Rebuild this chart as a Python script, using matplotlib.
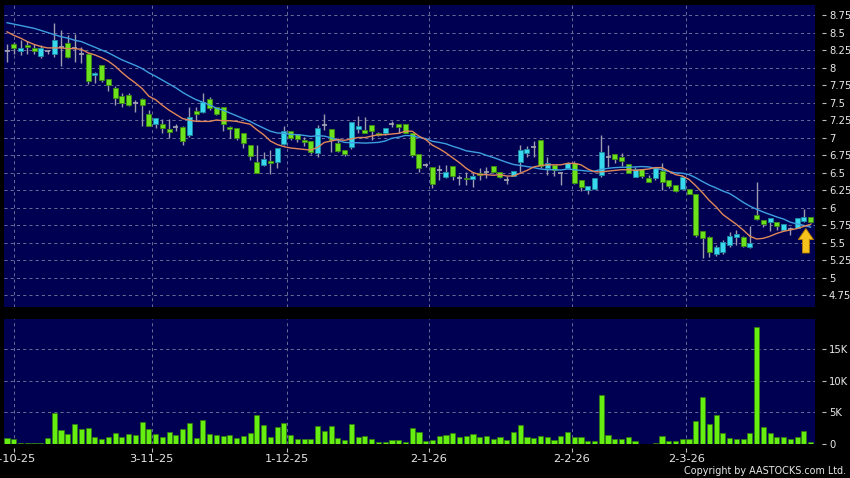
import matplotlib
matplotlib.use("Agg")
import matplotlib.pyplot as plt

# ---------------- data ----------------
opens = [8.24, 8.33, 8.23, 8.32, 8.28, 8.17, 8.23, 8.19, 8.29, 8.355,
         8.28, 8.19, 8.20, 7.90, 8.03, 7.83, 7.71, 7.60, 7.61, 7.50,
         7.555, 7.33, 7.20, 7.20, 7.115, 7.145, 7.155, 7.036, 7.38, 7.36,
         7.555, 7.43, 7.43, 7.155, 7.13, 7.06, 6.90, 6.655, 6.607, 6.67,
         6.655, 6.907, 7.097, 7.055, 6.96, 6.955, 6.783, 7.18, 7.117, 6.917,
         6.82, 6.869, 7.117, 7.107, 7.18, 7.06, 7.07, 7.193, 7.20, 7.19,
         7.06, 6.764, 6.607, 6.583, 6.536, 6.44, 6.593, 6.417, 6.426, 6.402,
         6.50, 6.512, 6.60, 6.512, 6.393, 6.455, 6.655, 6.783, 6.869, 6.96,
         6.569, 6.607, 6.488, 6.569, 6.63, 6.393, 6.25, 6.264, 6.464, 6.726,
         6.76, 6.726, 6.617, 6.44, 6.545, 6.417, 6.417, 6.526, 6.393, 6.32,
         6.264, 6.26, 6.20, 5.664, 5.583, 5.33, 5.369, 5.464, 5.574, 5.583,
         5.43, 5.893, 5.821, 5.798, 5.798, 5.679, 5.69, 5.702, 5.81, 5.86]
highs = [8.34, 8.37, 8.39, 8.38, 8.34, 8.32, 8.25, 8.63, 8.54, 8.46,
         8.48, 8.30, 8.21, 7.94, 8.03, 7.83, 7.73, 7.63, 7.63, 7.535,
         7.56, 7.39, 7.28, 7.26, 7.26, 7.19, 7.16, 7.43, 7.44, 7.63,
         7.58, 7.44, 7.44, 7.16, 7.13, 7.06, 6.90, 6.89, 6.80, 6.82,
         6.85, 7.164, 7.10, 7.055, 7.01, 6.955, 7.18, 7.336, 7.12, 6.99,
         6.82, 7.22, 7.307, 7.30, 7.18, 7.08, 7.13, 7.24, 7.20, 7.19,
         7.06, 6.764, 6.64, 6.583, 6.607, 6.607, 6.593, 6.464, 6.512, 6.488,
         6.56, 6.583, 6.60, 6.512, 6.45, 6.526, 6.893, 6.88, 6.955, 6.964,
         6.726, 6.607, 6.49, 6.645, 6.664, 6.393, 6.307, 6.417, 7.036, 6.90,
         6.76, 6.774, 6.617, 6.583, 6.545, 6.464, 6.583, 6.63, 6.393, 6.32,
         6.464, 6.26, 6.20, 5.664, 5.593, 5.464, 5.536, 5.655, 5.679, 5.60,
         5.736, 6.369, 5.821, 5.85, 5.798, 5.76, 5.726, 5.855, 5.974, 5.86]
lows = [8.08, 8.20, 8.18, 8.20, 8.20, 8.13, 8.20, 8.155, 8.02, 8.14,
        8.08, 8.06, 7.76, 7.78, 7.80, 7.66, 7.46, 7.44, 7.45, 7.37,
        7.16, 7.17, 7.13, 7.06, 7.00, 7.10, 6.89, 7.01, 7.23, 7.35,
        7.40, 7.32, 7.10, 7.00, 6.97, 6.85, 6.68, 6.49, 6.60, 6.48,
        6.57, 6.89, 6.97, 6.94, 6.88, 6.76, 6.717, 7.107, 6.80, 6.80,
        6.736, 6.83, 7.06, 7.06, 6.964, 7.02, 7.035, 7.145, 7.07, 7.06,
        6.726, 6.51, 6.574, 6.274, 6.393, 6.417, 6.393, 6.32, 6.32, 6.298,
        6.393, 6.417, 6.488, 6.417, 6.336, 6.455, 6.512, 6.726, 6.726, 6.56,
        6.464, 6.455, 6.32, 6.56, 6.33, 6.236, 6.20, 6.264, 6.44, 6.583,
        6.63, 6.60, 6.488, 6.44, 6.417, 6.36, 6.393, 6.25, 6.274, 6.226,
        6.264, 6.19, 5.574, 5.274, 5.298, 5.307, 5.336, 5.44, 5.464, 5.44,
        5.42, 5.82, 5.717, 5.67, 5.679, 5.679, 5.607, 5.702, 5.80, 5.783]
closes = [8.24, 8.28, 8.28, 8.29, 8.23, 8.28, 8.23, 8.39, 8.29, 8.15,
          8.28, 8.19, 7.81, 7.92, 7.82, 7.745, 7.56, 7.50, 7.46, 7.50,
          7.46, 7.17, 7.28, 7.13, 7.08, 7.145, 6.955, 7.30, 7.33, 7.507,
          7.417, 7.33, 7.19, 7.12, 7.00, 6.92, 6.735, 6.50, 6.70, 6.63,
          6.845, 7.097, 7.00, 6.974, 6.93, 6.79, 7.13, 7.18, 6.964, 6.81,
          6.764, 7.22, 7.17, 7.07, 7.097, 7.03, 7.13, 7.193, 7.145, 7.07,
          6.75, 6.56, 6.607, 6.336, 6.536, 6.507, 6.45, 6.417, 6.402, 6.45,
          6.464, 6.512, 6.507, 6.43, 6.393, 6.526, 6.82, 6.83, 6.869, 6.60,
          6.63, 6.536, 6.488, 6.63, 6.345, 6.30, 6.307, 6.417, 6.80, 6.726,
          6.70, 6.664, 6.488, 6.545, 6.455, 6.36, 6.56, 6.36, 6.31, 6.236,
          6.44, 6.20, 5.607, 5.56, 5.37, 5.44, 5.512, 5.593, 5.621, 5.45,
          5.488, 5.83, 5.764, 5.845, 5.736, 5.76, 5.69, 5.855, 5.869, 5.80]
ma10 = [8.51, 8.46, 8.42, 8.37, 8.33, 8.30, 8.28, 8.28, 8.28, 8.27,
        8.27, 8.26, 8.21, 8.18, 8.14, 8.09, 8.02, 7.93, 7.85, 7.78,
        7.70, 7.59, 7.54, 7.46, 7.39, 7.33, 7.27, 7.25, 7.23, 7.23,
        7.23, 7.25, 7.24, 7.24, 7.23, 7.21, 7.19, 7.11, 7.04, 6.95,
        6.90, 6.87, 6.85, 6.84, 6.83, 6.82, 6.86, 6.93, 6.95, 6.97,
        6.96, 6.98, 7.00, 7.00, 7.02, 7.04, 7.04, 7.05, 7.06, 7.09,
        7.09, 7.02, 6.97, 6.89, 6.84, 6.78, 6.71, 6.64, 6.56, 6.50,
        6.47, 6.47, 6.46, 6.47, 6.45, 6.45, 6.49, 6.53, 6.58, 6.60,
        6.61, 6.61, 6.61, 6.63, 6.63, 6.61, 6.55, 6.51, 6.51, 6.52,
        6.53, 6.54, 6.54, 6.53, 6.54, 6.55, 6.57, 6.57, 6.52, 6.47,
        6.45, 6.40, 6.31, 6.21, 6.10, 6.01, 5.90, 5.83, 5.76, 5.68,
        5.59, 5.55, 5.56, 5.59, 5.63, 5.66, 5.68, 5.70, 5.73, 5.76]
ma20 = [8.64, 8.62, 8.60, 8.58, 8.56, 8.53, 8.50, 8.47, 8.44, 8.42,
        8.39, 8.37, 8.33, 8.29, 8.25, 8.21, 8.16, 8.11, 8.07, 8.03,
        7.985, 7.925, 7.875, 7.82, 7.765, 7.71, 7.645, 7.59, 7.54, 7.505,
        7.465, 7.42, 7.39, 7.35, 7.31, 7.27, 7.23, 7.18, 7.135, 7.09,
        7.065, 7.06, 7.045, 7.04, 7.03, 7.015, 7.025, 7.02, 6.995, 6.96,
        6.93, 6.925, 6.925, 6.92, 6.925, 6.93, 6.95, 6.99, 7.005, 7.03,
        7.025, 7.00, 6.985, 6.945, 6.93, 6.91, 6.875, 6.845, 6.81, 6.795,
        6.78, 6.745, 6.715, 6.68, 6.645, 6.615, 6.60, 6.585, 6.57, 6.55,
        6.54, 6.54, 6.535, 6.55, 6.54, 6.53, 6.52, 6.52, 6.545, 6.56,
        6.57, 6.575, 6.575, 6.58, 6.585, 6.58, 6.56, 6.54, 6.515, 6.495,
        6.49, 6.47, 6.425, 6.37, 6.32, 6.28, 6.235, 6.20, 6.14, 6.075,
        6.02, 5.975, 5.935, 5.90, 5.865, 5.835, 5.79, 5.765, 5.745, 5.72]
volume = [990, 830, 200, 200, 100, 200, 990, 4900, 2140, 1560,
          3120, 2400, 2450, 1040, 830, 1040, 1770, 1040, 1560, 1460,
          3540, 2400, 1560, 1150, 1930, 1460, 2290, 3330, 890, 3750,
          1510, 1410, 1300, 1410, 990, 1200, 1770, 4530, 3020, 1150,
          2710, 3330, 1410, 730, 730, 780, 2760, 2080, 2860, 940,
          570, 3230, 1040, 1200, 780, 360, 360, 680, 625, 260,
          2550, 1820, 520, 625, 1300, 1410, 1720, 1150, 1200, 1560,
          1040, 1300, 780, 1040, 625, 1820, 3020, 1040, 990, 1200,
          1090, 625, 1300, 1820, 1040, 1150, 520, 520, 7660, 1460,
          780, 830, 1040, 420, 30, 30, 100, 1200, 420, 520,
          830, 830, 3650, 7450, 3120, 4580, 1670, 990, 780, 780,
          1670, 18440, 2710, 1670, 1150, 1040, 780, 1040, 1980, 260]
date_labels = ["2-10-25", "3-11-25", "1-12-25", "2-1-26", "2-2-26", "2-3-26"]
date_pos = [1.0, 21.4, 41.4, 62.5, 83.6, 100.6]
price_ticks = [4.75, 5, 5.25, 5.5, 5.75, 6, 6.25, 6.5, 6.75, 7, 7.25, 7.5,
               7.75, 8, 8.25, 8.5, 8.75]
price_tick_labels = ["4.75", "5", "5.25", "5.5", "5.75", "6", "6.25", "6.5",
                     "6.75", "7", "7.25", "7.5", "7.75", "8", "8.25", "8.5", "8.75"]
vol_ticks = [0, 5000, 10000, 15000]
vol_tick_labels = ["0", "5K", "10K", "15K"]
arrow_x = 118.3
arrow_from, arrow_to = 5.35, 5.70

# ---------------- style ----------------
BG = "#000000"
PANEL = "#000052"
GRID = "#6c6c98"
UP = "#38d8ee"
UP_EDGE = "#1c8aa0"
DOWN = "#6ce21c"
DOWN_EDGE = "#3a8a12"
WICK = "#9c9cae"
DOJI = "#a8a8b4"
VOL = "#66ee11"
VOL_EDGE = "#2f7d0c"
TXT = "#e8e8e8"

W, H = 850, 478
fig = plt.figure(figsize=(W / 100, H / 100), dpi=100, facecolor=BG)
ax1 = fig.add_axes([4 / W, 1 - 306.7 / H, 811 / W, (306.7 - 5) / H])
ax2 = fig.add_axes([4 / W, 1 - 444 / H, 811 / W, (444 - 319) / H])

n = len(closes)
xs = list(range(n))
for ax in (ax1, ax2):
    ax.set_facecolor(PANEL)
    for s in ax.spines.values():
        s.set_visible(False)
    ax.set_xlim(-0.45, 119.65)
    ax.grid(True, color=GRID, linestyle=(0, (3.2, 3.2)), linewidth=0.7)
    ax.set_axisbelow(True)
    ax.yaxis.tick_right()
    ax.spines["right"].set_position(("outward", 5))
    ax.tick_params(axis="y", which="both", length=3, width=0.8, color="#bbbbbb",
                   labelcolor=TXT, labelsize=7.2, pad=2)
    ax.set_xticks(date_pos)

# ---------------- candles ----------------
ax1.vlines(xs, lows, highs, color=WICK, linewidth=1.0, zorder=2)
for i in xs:
    o, c = opens[i], closes[i]
    if abs(c - o) < 1e-9:
        ax1.hlines(o, i - 0.37, i + 0.37, color=DOJI, linewidth=1.2, zorder=3)
    else:
        col, ec = (UP, UP_EDGE) if c > o else (DOWN, DOWN_EDGE)
        ax1.bar(i, abs(c - o), bottom=min(o, c), width=0.74, color=col,
                edgecolor=ec, linewidth=0.6, zorder=3)
ax1.plot(xs, ma20, color="#3e9fe0", linewidth=1.0, zorder=4)
ax1.plot(xs, ma10, color="#e0875a", linewidth=1.0, zorder=4)

ax1.annotate("", xy=(arrow_x, arrow_to), xytext=(arrow_x, arrow_from),
             arrowprops=dict(arrowstyle="simple,head_length=0.8,head_width=1.1,tail_width=0.5",
                             fc="#f6c21c", ec="#b57c00", lw=0.6,
                             shrinkA=0, shrinkB=0), zorder=5)

ax1.set_ylim(4.583, 8.893)
ax1.set_yticks(price_ticks)
ax1.set_yticklabels(price_tick_labels)
ax1.tick_params(axis="x", length=0, labelbottom=False)

# ---------------- volume ----------------
ax2.bar(xs, volume, width=0.76, color=VOL, edgecolor=VOL_EDGE, linewidth=0.5, zorder=3)
ax2.set_ylim(0, 19700)
ax2.set_yticks(vol_ticks)
ax2.set_yticklabels(vol_tick_labels)
ax2.spines["bottom"].set_position(("outward", 3))
ax2.set_xticklabels(date_labels)
ax2.tick_params(axis="x", length=3, width=0.8, color="#bbbbbb", labelcolor=TXT,
                labelsize=8.2, pad=1.5)

fig.text(846 / W, 1 - 471 / H, "Copyright by AASTOCKS.com Ltd.", ha="right",
         va="center", color=TXT, fontsize=6.9)

fig.savefig("out.png", dpi=100, facecolor=BG)
